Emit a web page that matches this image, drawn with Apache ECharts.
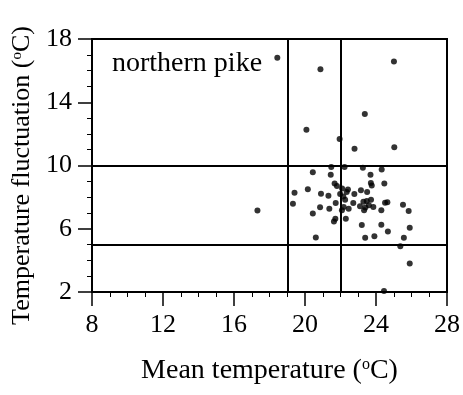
<!DOCTYPE html>
<html>
<head>
<meta charset="utf-8">
<script src="https://cdn.jsdelivr.net/npm/echarts@6/dist/echarts.min.js"></script>
<style>
  html, body { margin: 0; padding: 0; background: #fff; }
  #chart { width: 463px; height: 395px; }
</style>
</head>
<body>
<div id="chart"></div>
<script>
// Mean temperature (°C) of each site
const meanTemp = [
  18.44, 20.87, 25.01, 20.08, 23.37, 21.95, 22.79, 25.03,
  21.48, 22.23, 23.26, 24.32, 20.44, 21.45, 23.69,
  21.67, 21.80, 23.71, 23.76, 24.47, 20.16, 22.09, 22.42,
  19.41, 20.90, 21.32, 22.35, 22.78, 23.15, 23.50,
  21.98, 22.16, 22.26, 21.73, 19.32, 22.72, 23.10, 23.29,
  23.48, 23.72, 23.40, 23.60, 23.85, 24.51, 24.64,
  20.85, 21.37, 22.18, 22.08, 22.46, 23.33, 24.30, 25.52, 25.84,
  17.32, 20.44, 21.71, 21.63, 22.30, 23.20, 24.30, 25.90,
  24.67, 20.61, 23.39, 23.91, 25.57, 25.37, 25.90, 24.45
];
// Temperature fluctuation (°C) of each site
const tempFluct = [
  16.82, 16.09, 16.57, 12.26, 13.25, 11.67, 11.06, 11.15,
  9.91, 9.91, 9.85, 9.74, 9.57, 9.41, 9.42,
  8.86, 8.70, 8.90, 8.73, 8.86, 8.50, 8.55, 8.48,
  8.27, 8.21, 8.08, 8.33, 8.20, 8.43, 8.33,
  8.19, 8.04, 7.84, 7.63, 7.58, 7.63, 7.43, 7.70,
  7.76, 7.83, 7.35, 7.48, 7.37, 7.64, 7.68,
  7.36, 7.26, 7.38, 7.17, 7.27, 7.17, 7.17, 7.51, 7.13,
  7.16, 6.97, 6.63, 6.46, 6.63, 6.23, 6.25, 6.06,
  5.83, 5.45, 5.43, 5.53, 5.43, 4.90, 3.81, 2.07
];
// Threshold lines splitting the plane
const meanCuts = [19, 22];
const fluctCuts = [10, 5];
const speciesLabel = 'northern pike';

const serif = '"Liberation Serif", "DejaVu Serif", serif';
const points = meanTemp.map((x, i) => [x, tempFluct[i]]);

const chart = echarts.init(document.getElementById('chart'), null, { renderer: 'canvas' });

function nameStyle(size, padding) {
  return {
    color: '#000', fontFamily: serif, fontSize: size, padding: padding,
    rich: { sup: { fontFamily: serif, fontSize: Math.round(size * 0.58), color: '#000', verticalAlign: 'top', padding: [0, 0, 10, 0] } }
  };
}

const axisCommon = {
  axisLine: { show: true, lineStyle: { color: '#000', width: 2 } },
  axisTick: { show: true, inside: false, length: 14, lineStyle: { color: '#000', width: 1.5 } },
  minorTick: { show: true, splitNumber: 4, length: 5, lineStyle: { color: '#000', width: 1 } },
  splitLine: { show: false },
  minorSplitLine: { show: false },
  axisLabel: { color: '#000', fontFamily: serif, fontSize: 26, margin: 20 }
};

chart.setOption({
  animation: false,
  backgroundColor: '#fff',
  title: {
    text: speciesLabel,
    left: 107, top: 45,
    textStyle: { color: '#000', fontFamily: serif, fontSize: 28, fontWeight: 'normal' }
  },
  grid: {
    left: 92, right: 14, top: 39, bottom: 103,
    show: true, borderColor: '#000', borderWidth: 2, backgroundColor: 'transparent'
  },
  xAxis: Object.assign({}, axisCommon, {
    type: 'value', min: 8, max: 28, interval: 4,
    name: 'Mean temperature ({sup|o}C)',
    nameLocation: 'middle', nameGap: 65,
    nameTextStyle: nameStyle(28, 0)
  }),
  yAxis: Object.assign({}, axisCommon, {
    type: 'value', min: 2, max: 18, interval: 4,
    name: 'Temperature fluctuation ({sup|o}C)',
    nameLocation: 'middle', nameGap: 50, nameRotate: 90,
    nameTextStyle: nameStyle(26, [0, 20, 0, 0])
  }),
  series: [{
    type: 'scatter',
    data: points,
    symbol: 'circle',
    symbolSize: 6,
    itemStyle: { color: '#000' },
    markLine: {
      silent: true,
      symbol: ['none', 'none'],
      label: { show: false },
      lineStyle: { color: '#000', width: 2, type: 'solid' },
      data: meanCuts.map(v => ({ xAxis: v })).concat(fluctCuts.map(v => ({ yAxis: v })))
    }
  }]
});
</script>
</body>
</html>
